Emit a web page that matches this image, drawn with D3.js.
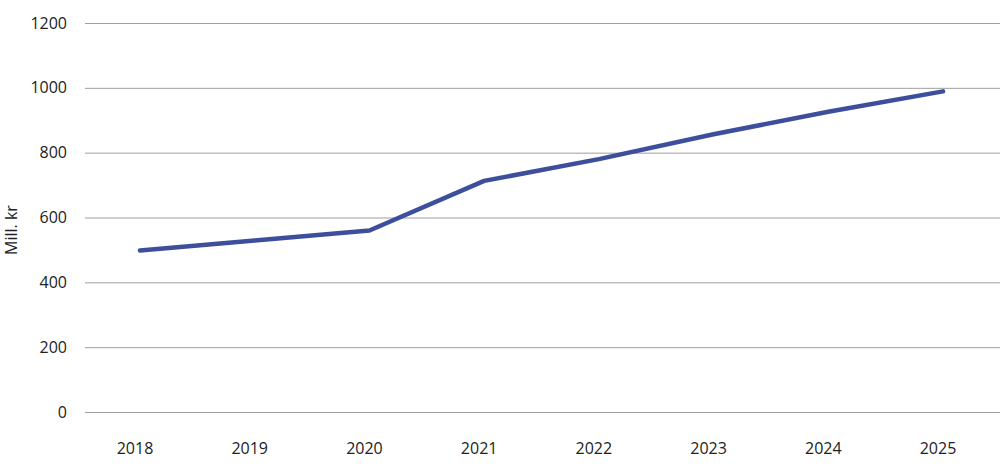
<!DOCTYPE html>
<html>
<head>
<meta charset="utf-8">
<script src="https://cdn.jsdelivr.net/npm/d3@7"></script>
<style>
  body { margin: 0; background: #fff; }
  text { font-family: "Open Sans", sans-serif; fill: #222; }
</style>
</head>
<body>
<svg id="chart" width="1000" height="470"></svg>
<script>
const years = ["2018", "2019", "2020", "2021", "2022", "2023", "2024", "2025"];
const values = [498, 529, 560, 713, 780, 857, 926, 989];
const yTicks = [0, 200, 400, 600, 800, 1000, 1200];
const yTitle = "Mill. kr";

const svg = d3.select("#chart");
const y = d3.scaleLinear().domain([0, 1200]).range([412, 23]);
const x = d3.scalePoint().domain(years).range([140, 943]);

// gridlines
svg.append("g")
  .attr("transform", "translate(85,0)")
  .call(d3.axisLeft(y).tickValues(yTicks).tickSize(-915).tickFormat(d => d))
  .call(g => g.select(".domain").remove())
  .call(g => g.selectAll(".tick line").attr("stroke", "#9f9f9f").attr("stroke-width", 1))
  .call(g => g.selectAll(".tick text").attr("x", -18).attr("font-size", 16).style("fill", "#222"));

// x axis labels
svg.append("g")
  .attr("transform", "translate(0,412)")
  .call(d3.axisBottom(x).tickSize(0))
  .call(g => g.select(".domain").remove())
  .call(g => g.selectAll(".tick text").attr("dx", -5.5).attr("y", 31).attr("font-size", 16).style("fill", "#222"));

// y title
svg.append("text")
  .attr("transform", "translate(17,230) rotate(-90)")
  .attr("text-anchor", "middle")
  .attr("font-size", 16)
  .text(yTitle);

// line
const line = d3.line().x((d, i) => x(years[i])).y(d => y(d));
svg.append("path")
  .datum(values)
  .attr("d", line)
  .attr("fill", "none")
  .attr("stroke", "#3d4f9c")
  .attr("stroke-width", 4.5)
  .attr("stroke-linecap", "round")
  .attr("stroke-linejoin", "round");
</script>
</body>
</html>
